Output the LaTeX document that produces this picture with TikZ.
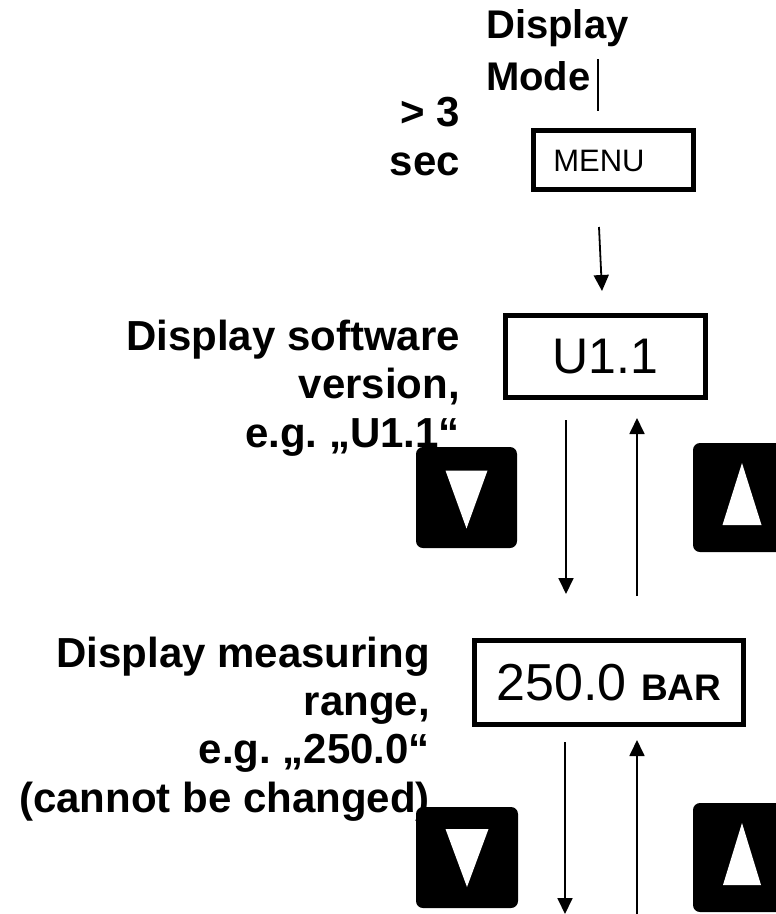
\documentclass[tikz,border=0pt]{standalone}
\usepackage{fontspec}
\setmainfont{Liberation Sans}
\usetikzlibrary{arrows.meta}

\tikzset{
  lcd/.style={draw, line width=4.5pt, inner sep=0pt},
  note/.style={font=\fontsize{42}{48.3}\selectfont\bfseries, inner sep=0pt},
  keypad/.style={fill=black, rounded corners=7pt, inner sep=0pt},
  flow/.style={line width=1.8pt, -{Triangle[length=16pt,width=15pt]}}
}

\begin{document}
\begin{tikzpicture}[x=1pt, y=-1pt]
        \useasboundingbox (0,0) rectangle (776,914);

        \node[note, font=\fontsize{40}{52}\selectfont\bfseries, anchor=base west, align=left] (mode) at (486,90) {Display\\Mode};
        \draw[line width=2pt] (598,59) -- (598,111);

        \node[note, anchor=base east, align=right] (hold) at (460,175) {> 3\\sec};
        \node[lcd, minimum width=160pt, minimum height=59pt] (menu) at (613.5,160) {};
        \node[font=\fontsize{31}{36}\selectfont] (menutext) at (599,161) {MENU};

        \node[note, anchor=base east, align=right] (vertext) at (460,447) {Display software\\version,\\e.g.\ „U1.1“};
        \node[lcd, minimum width=200pt, minimum height=82pt, font=\fontsize{50}{58}\selectfont] (ver) at (605.5,356.5) {U1.1};

        \node[note, anchor=base east, align=right] (rangetext) at (430,812) {Display measuring\\range,\\e.g.\ „250.0“\\(cannot be changed)};
        \node[lcd, minimum width=269pt, minimum height=84pt, font=\fontsize{52}{60}\selectfont] (range) at (609,682.5) {250.0 {\bfseries\fontsize{37}{40}\selectfont BAR}};

        % arrows
        \coordinate (m0) at (599,227);
        \coordinate (m1) at (602,291);
        \coordinate (d1s) at (566,420);
        \coordinate (d1e) at (566,594);
        \coordinate (u1s) at (637,596);
        \coordinate (u1e) at (637,418);
        \coordinate (d2s) at (565,742);
        \coordinate (d2e) at (565,914);
        \coordinate (u2s) at (637,918);
        \coordinate (u2e) at (637,740);
        \draw[flow] (m0) -- (m1);
        \draw[flow] (d1s) -- (d1e);
        \draw[flow] (u1s) -- (u1e);
        \draw[flow] (d2s) -- (d2e);
        \draw[flow] (u2s) -- (u2e);

        % keys
        \node[keypad, minimum width=101pt, minimum height=101pt] (down1) at (466.5,497.5) {};
        \node[keypad, minimum width=98pt, minimum height=109pt] (up1) at (742,497.5) {};
        \node[keypad, minimum width=102pt, minimum height=101pt] (down2) at (467,857.5) {};
        \node[keypad, minimum width=98pt, minimum height=109pt] (up2) at (742,857.5) {};
        \fill[white] ([shift={(-21,-27)}]down1.center) -- ++(42,0) -- ++(-21,58) -- cycle;
        \fill[white] ([shift={(0,-34.5)}]up1.center) -- ++(19.5,62) -- ++(-39,0) -- cycle;
        \fill[white] ([shift={(-21.5,-28.5)}]down2.center) -- ++(43,0) -- ++(-21.5,58) -- cycle;
        \fill[white] ([shift={(0,-34.5)}]up2.center) -- ++(19,62) -- ++(-38,0) -- cycle;
\end{tikzpicture}
\end{document}
